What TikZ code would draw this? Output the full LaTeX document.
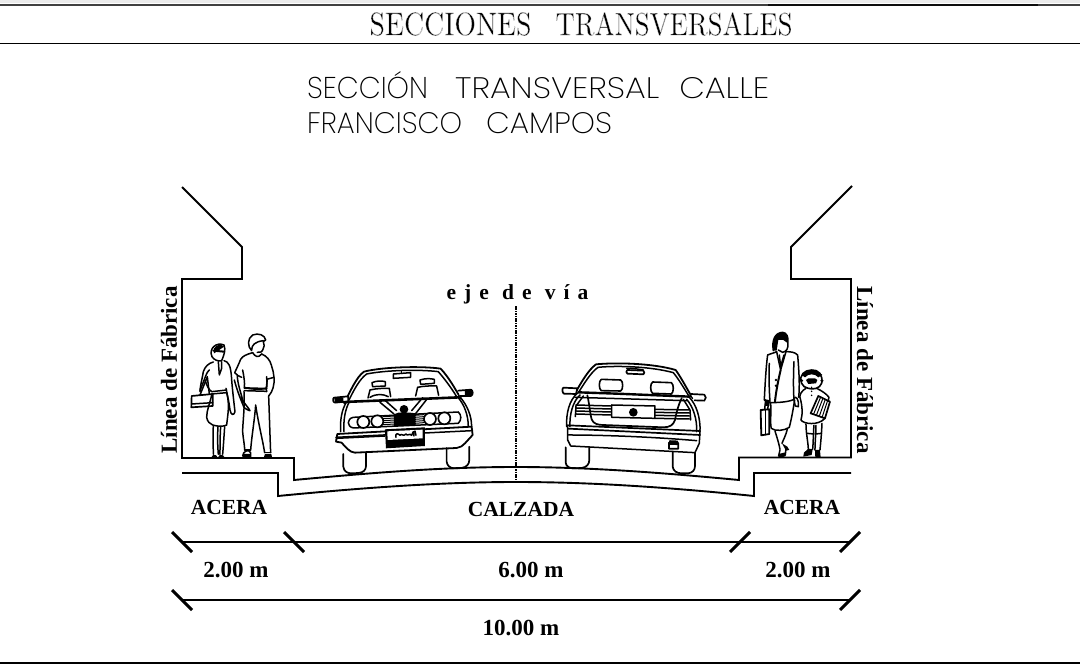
\documentclass[tikz,border=0pt]{standalone}
\usepackage{fontspec}
\usepackage{graphicx}
\setmainfont{Liberation Serif}
\newfontfamily\cadsans{Poppins ExtraLight}
\newfontfamily\cadserif{Latin Modern Roman}
\usetikzlibrary{calc}
\newcommand{\thinned}[1]{\special{pdf:code 2 Tr 0.08 w 1 1 1 RG}#1\special{pdf:code 0 Tr 0 0 0 RG}}
\tikzset{
  road/.style={line width=1.9pt,line join=miter},
  fig/.style={line width=1.5pt,line join=round,line cap=round},
  figthin/.style={line width=1pt,line join=round,line cap=round},
  tick/.style={line width=3pt},
  dimline/.style={line width=1.8pt},
  lab/.style={font=\fontsize{21.5}{21.5}\selectfont\bfseries,inner sep=0pt},
  dimlab/.style={font=\fontsize{23}{23}\selectfont\bfseries,inner sep=0pt},
  side/.style={font=\fontsize{23}{23}\selectfont\bfseries,inner sep=0pt},
}
\begin{document}
\begin{tikzpicture}[x=1pt,y=-1pt]
\useasboundingbox (0,0) rectangle (1080,666);
% frame rules
\fill[black!8] (0,0) rectangle (1080,3);
\draw[line width=2.4pt,black!75] (0,4.8) -- (1080,4.8);
\draw[line width=2.4pt,black!95] (768,4.8) -- (1038,4.8);
\draw[line width=1.7pt] (0,43.5) -- (1080,43.5);
\draw[line width=1.7pt] (0,663) -- (1080,663);
% titles
\node[inner sep=0pt] (title) at (581,24) {\resizebox{162pt}{23pt}{\thinned{\cadserif SECCIONES}}\hspace{24pt}\resizebox{237pt}{23pt}{\thinned{\cadserif TRANSVERSALES}}};
\node[inner sep=0pt,anchor=south west] (sub1) at (307,98.5) {\resizebox{121pt}{27pt}{\cadsans SECCIÓN}\hspace{27pt}\resizebox{204pt}{21pt}{\cadsans TRANSVERSAL}\hspace{20pt}\resizebox{90pt}{21pt}{\cadsans CALLE}};
\node[inner sep=0pt,anchor=south west] (sub2) at (307,133.5) {\resizebox{155pt}{21pt}{\cadsans FRANCISCO}\hspace{24pt}\resizebox{126pt}{21pt}{\cadsans CAMPOS}};
% road and buildings
\draw[road] (182,187) -- (242,247) -- (242,279) -- (182,279) -- (182,458) -- (294,458) -- (294,480)
  .. controls (370,473) and (440,467) .. (516,467)
  .. controls (590,467) and (665,473) .. (739,480) -- (739,457.5) -- (851,457.5) -- (851,279) -- (791,279) -- (791,247) -- (852,186);
\draw[road] (182,473) -- (278,473) -- (278,496)
  .. controls (360,488) and (440,482) .. (516,482)
  .. controls (595,482) and (675,488) .. (754,496) -- (754,473) -- (851,473);
\draw[line width=1.2pt,dash pattern=on 1.6pt off .8pt] (516,306) -- (516,482);
% labels
\node[font=\fontsize{21.5}{21.5}\selectfont\bfseries,inner sep=0pt] (eje) at (517.5,294) {\addfontfeature{LetterSpace=37}eje de vía};
\node[side,rotate=90] (lfl) at (169,370) {Línea de Fábrica};
\node[side,rotate=-90] (lfr) at (865,370) {Línea de Fábrica};
\node[lab] (a1) at (229,507) {ACERA};
\node[lab] (c) at (521,509) {CALZADA};
\node[lab] (a2) at (802,507) {ACERA};
\node[dimlab] (d1) at (236,570) {2.00 m};
\node[dimlab] (d2) at (531,570) {6.00 m};
\node[dimlab] (d3) at (798,570) {2.00 m};
\node[dimlab] (d4) at (521,628) {10.00 m};
% dimensions
\coordinate (p1) at (182,542); \coordinate (p2) at (294,542); \coordinate (p3) at (740,542); \coordinate (p4) at (850,542);
\coordinate (q1) at (182,600); \coordinate (q4) at (850,600);
\draw[dimline] (p1) -- (p4);
\draw[dimline] (q1) -- (q4);
\foreach \p in {p1,p2,q1} \draw[tick] ($(\p)+(-10,-10)$) -- ($(\p)+(10,10)$);
\foreach \p in {p3,p4,q4} \draw[tick] ($(\p)+(-10,10)$) -- ($(\p)+(10,-10)$);

% ---------- left group (coordinates = zoom pixels)
\begin{scope}[shift={(150,320)},x=.3333pt,y=-.3333pt]
 % woman
 \begin{scope}[fig]
 \draw (186,110) .. controls (175,85) and (200,65) .. (222,75) .. controls (228,90) and (222,105) .. (215,122) .. controls (205,125) and (192,120) .. (186,110);
 \draw[line width=2pt] (190,92) -- (222,95);
 \fill (192,85) .. controls (200,72) and (215,72) .. (222,80) -- (205,92) -- (192,100) -- cycle;
 \draw (190,126) .. controls (175,130) and (165,140) .. (160,155) .. controls (155,185) and (150,200) .. (150,215);
 \draw (222,122) .. controls (235,125) and (243,135) .. (245,180) .. controls (248,215) and (252,250) .. (255,275) .. controls (252,287) and (243,287) .. (240,270) .. controls (238,250) and (232,225) .. (228,205);
 \draw (165,180) .. controls (170,195) and (175,208) .. (185,215) -- (230,210);
 \draw (185,222) -- (230,218);
 \draw (205,125) -- (208,165) -- (215,145) -- (215,125);
 \draw (178,150) .. controls (170,155) and (165,175) .. (150,212);
 \draw (185,225) .. controls (180,250) and (170,270) .. (170,292) .. controls (172,305) and (180,312) .. (188,315) .. controls (205,320) and (220,320) .. (230,315) .. controls (233,285) and (240,255) .. (230,218);
 \draw (190,318) .. controls (188,350) and (190,380) .. (190,403);
 \draw (204,320) .. controls (202,350) and (203,380) .. (205,403);
 \draw (212,320) .. controls (210,350) and (210,380) .. (210,403);
 \draw (224,320) .. controls (222,350) and (220,380) .. (218,403);
 \fill (185,411) .. controls (186,403) and (200,402) .. (202,411) -- cycle;
 \fill (205,411) .. controls (206,403) and (220,402) .. (223,411) -- cycle;
 \draw[line width=1.7pt] (125,228) -- (188,222) -- (188,258) -- (124,262) -- cycle;
 \draw (125,252) -- (188,248);
 \draw (150,225) -- (172,170) -- (178,222);
 % man
 \draw (305,92) .. controls (292,80) and (292,55) .. (308,45) .. controls (325,38) and (345,45) .. (347,60) .. controls (345,62) and (342,65) .. (340,65) .. controls (342,75) and (345,80) .. (340,85) .. controls (338,95) and (330,100) .. (322,97);
 \draw (305,90) .. controls (305,75) and (315,65) .. (340,62);
 \draw (308,98) .. controls (315,110) and (325,115) .. (335,102);
 \draw (308,98) .. controls (290,103) and (278,108) .. (272,118) .. controls (265,135) and (258,150) .. (254,158) .. controls (260,165) and (268,170) .. (275,172);
 \draw (335,102) .. controls (350,108) and (360,120) .. (364,135) .. controls (368,150) and (372,160) .. (372,172) -- (350,178);
 \draw (278,150) .. controls (282,170) and (285,190) .. (283,202) .. controls (300,208) and (335,210) .. (350,204) .. controls (352,190) and (350,180) .. (350,170);
 \draw (262,165) .. controls (262,190) and (272,215) .. (278,240) .. controls (282,250) and (295,262) .. (300,272) .. controls (295,272) and (285,265) .. (282,262) .. controls (275,245) and (262,215) .. (253,180);
 \draw (372,172) .. controls (374,195) and (368,215) .. (356,228);
 \draw (352,178) .. controls (350,195) and (348,205) .. (350,215);
 \draw[line width=1.8pt] (283,204) -- (350,206);
 \draw (283,212) -- (350,214);
 \draw (282,215) .. controls (285,260) and (278,310) .. (278,335) .. controls (280,360) and (284,375) .. (284,390);
 \draw (302,390) .. controls (305,350) and (315,290) .. (317,255) .. controls (325,310) and (338,360) .. (344,398);
 \draw (362,398) .. controls (360,350) and (358,280) .. (356,228);
 \draw (284,390) -- (302,390);
 \draw (344,398) -- (362,398);
 \draw (278,408) .. controls (278,395) and (296,385) .. (302,398) -- (302,410);
 \fill (278,411) -- (302,411) -- (302,402) -- (280,402) -- cycle;
 \fill (342,411) -- (366,411) -- (364,402) -- (345,402) -- cycle;
 \end{scope}
 % front car
 \begin{scope}[fig]
 \draw[line width=1.8pt] (583,250) .. controls (600,215) and (620,170) .. (642,155) .. controls (700,140) and (820,138) .. (872,146) .. controls (895,170) and (915,205) .. (932,235);
 \draw (597,240) .. controls (612,210) and (628,178) .. (650,162) .. controls (710,150) and (810,148) .. (865,155) .. controls (885,178) and (905,205) .. (920,230);
 \draw (730,162) -- (782,158) -- (782,172) -- (730,175) -- cycle;
 \draw (755,152) -- (755,160);
 \draw (666,188) .. controls (680,182) and (695,182) .. (706,185) -- (706,198) -- (668,200) -- cycle;
 \draw (660,210) .. controls (680,205) and (700,205) .. (718,205) -- (722,230);
 \draw (660,210) -- (654,234);
 \draw (660,232) .. controls (680,220) and (700,222) .. (715,230);
 \draw (810,180) .. controls (825,175) and (840,175) .. (853,178) -- (853,190) -- (812,193) -- cycle;
 \draw (803,202) .. controls (820,198) and (845,197) .. (860,198) -- (866,226);
 \draw (803,202) -- (797,228);
 \draw[line width=2.6pt] (580,246) -- (930,232);
 \draw[line width=1.7pt,fill=white] (552,233) -- (595,229) -- (595,244) -- (555,248) .. controls (548,247) and (548,235) .. (552,233);
 \draw[line width=1.7pt,fill=white] (925,212) -- (963,209) .. controls (970,212) and (970,225) .. (963,228) -- (930,228);
 \fill (553,234) -- (580,232) -- (580,246) -- (555,248) -- cycle;
 \fill (945,211) -- (965,209) -- (968,225) -- (945,228) -- cycle;
 \draw (572,335) .. controls (570,300) and (575,270) .. (590,245);
 \draw (582,335) .. controls (580,300) and (585,270) .. (598,245);
 \draw (965,320) .. controls (965,285) and (950,255) .. (932,233);
 \draw (955,320) .. controls (955,285) and (943,255) .. (925,233);
 \draw (610,292) -- (925,276) .. controls (935,285) and (935,300) .. (925,310) -- (610,324) .. controls (590,320) and (590,296) .. (610,292);
 \foreach \c/\d in {640/306,682/304,840/297,883/295} \draw[line width=1.7pt,fill=white] (\c,\d) circle[radius=18];
 \foreach \yy in {-12,-6,0,6,12} {\draw[figthin] (700,302+\yy) -- (735,300+\yy); \draw[figthin] (795,298+\yy) -- (822,296+\yy);}
 \fill (732,283) -- (745,278) -- (780,278) -- (797,280) -- (797,316) -- (732,318) -- cycle;
 \fill (762,268) circle[radius=13];
 \draw[line width=1.5pt] (690,247) -- (732,282) (704,240) -- (740,272);
 \draw[line width=1.5pt] (818,233) -- (785,272) (832,236) -- (796,282);
 \draw[line width=1.8pt] (562,342) -- (965,320) -- (968,345) -- (945,370) .. controls (940,378) and (930,382) .. (920,384) -- (615,398) .. controls (600,398) and (585,380) .. (575,368) -- (558,365) -- cycle;
 \draw (558,352) -- (967,332);
 \draw (705,348) -- (560,355);
 \fill (705,328) -- (825,322) -- (825,378) -- (708,385) -- cycle;
 \fill[white] (712,334) -- (818,329) -- (818,355) -- (713,360) -- cycle;
 \draw[line width=1.5pt] (738,352) .. controls (735,338) and (745,340) .. (750,346) .. controls (755,338) and (760,352) .. (768,342) .. controls (772,350) and (780,338) .. (785,346) -- (790,335) -- (792,348) (795,333) -- (798,346);
 \draw[line width=1.7pt] (580,402) -- (580,440) .. controls (582,455) and (592,460) .. (605,460) -- (625,459) .. controls (640,458) and (648,450) .. (648,438) -- (648,398);
 \draw[line width=1.7pt] (890,384) -- (890,425) .. controls (892,438) and (900,444) .. (912,445) -- (935,444) .. controls (950,442) and (958,432) .. (958,420) -- (958,380);
 \end{scope}
\end{scope}

% ---------- right group
\begin{scope}[shift={(500,320)},x=.3333pt,y=-.3333pt]
 \begin{scope}[fig]
 % rear car
 \draw[line width=1.8pt] (225,220) .. controls (245,185) and (265,150) .. (288,133) .. controls (350,127) and (460,130) .. (527,150) .. controls (545,175) and (560,205) .. (578,235);
 \draw (235,218) .. controls (253,190) and (272,158) .. (294,142) .. controls (355,136) and (455,140) .. (520,158) .. controls (538,180) and (552,205) .. (568,230);
 \draw[line width=1.7pt] (382,150) -- (430,152) .. controls (434,156) and (434,160) .. (430,163) -- (382,161) .. controls (378,158) and (378,153) .. (382,150);
 \draw (380,145) -- (405,146) -- (430,150);
 \draw[line width=1.6pt] (304,178) -- (362,180) .. controls (370,182) and (370,210) .. (362,213) -- (304,212) .. controls (296,208) and (296,182) .. (304,178);
 \draw[line width=1.6pt] (458,186) -- (514,188) .. controls (522,192) and (522,218) .. (514,222) -- (458,220) .. controls (450,216) and (450,190) .. (458,186);
 \draw[line width=1.7pt,fill=white] (190,203) -- (232,205) -- (228,222) -- (192,221) .. controls (186,218) and (186,206) .. (190,203);
 \draw[line width=1.7pt,fill=white] (572,222) -- (613,224) .. controls (619,228) and (619,238) .. (613,242) -- (584,241);
 \draw[line width=2.4pt] (235,217) -- (350,221) -- (570,230);
 \draw (225,232) -- (560,242);
 \draw (200,320) .. controls (198,280) and (208,240) .. (232,220);
 \draw (210,320) .. controls (208,285) and (218,245) .. (240,225);
 \draw (600,335) .. controls (602,295) and (590,255) .. (568,232);
 \draw (590,335) .. controls (592,300) and (580,260) .. (560,238);
 \draw[line width=1.7pt] (262,226) .. controls (268,250) and (270,280) .. (275,298) .. controls (280,312) and (295,315) .. (310,315) -- (490,322) .. controls (510,322) and (520,315) .. (525,300) .. controls (530,275) and (535,255) .. (545,235);
 \draw (335,255) -- (465,258) -- (465,295) -- (335,292) -- cycle;
 \foreach \yy in {0,9,18,27} \draw (228,255+\yy) -- (332,258+\yy);
 \foreach \yy in {0,9,18,27} \draw (465,268+\yy) -- (568,270+\yy);
 \draw (250,228) -- (228,258) -- (226,290);
 \draw (550,238) -- (570,270) -- (572,300);
 \fill (400,277) circle[radius=13];
 \draw[line width=1.7pt] (203,316) -- (600,333);
 \draw[line width=1.7pt] (205,326) -- (600,345);
 \draw (205,345) .. controls (300,345) and (450,350) .. (590,362);
 \draw (203,316) -- (203,360) -- (212,378) -- (585,398) -- (598,370) -- (600,333);
 \draw[line width=1.7pt,fill=white] (507,368) -- (535,369) -- (535,386) -- (507,386) -- cycle;
 \draw[fill=black] (510,363) -- (532,364) -- (532,373) -- (510,372) -- cycle;
 \draw[line width=1.7pt] (197,382) -- (197,428) .. controls (198,440) and (210,445) .. (220,445) -- (245,444) .. controls (260,442) and (268,432) .. (268,420) -- (268,382);
 \draw[line width=1.7pt] (518,396) -- (518,440) .. controls (520,453) and (530,460) .. (545,460) -- (565,460) .. controls (578,458) and (585,450) .. (585,438) -- (585,398);
 % woman with jacket
 \fill (820,92) .. controls (815,60) and (825,38) .. (848,37) .. controls (860,38) and (866,50) .. (864,70) -- (850,60) -- (835,60) -- (830,92) -- cycle;
 \draw (820,92) .. controls (815,60) and (825,38) .. (848,37) .. controls (860,38) and (866,50) .. (864,70) .. controls (865,85) and (860,95) .. (848,97) -- (835,90);
 \draw (803,105) .. controls (815,100) and (825,98) .. (830,95);
 \draw (858,95) .. controls (870,95) and (885,96) .. (893,105) .. controls (897,150) and (900,200) .. (896,232);
 \draw (803,105) .. controls (798,140) and (795,200) .. (793,240);
 \draw (793,240) -- (810,248) .. controls (840,248) and (870,245) .. (882,238);
 \draw (830,95) -- (842,150) -- (858,95);
 \draw (838,105) -- (842,140) -- (852,105);
 \draw[line width=2pt] (842,150) .. controls (835,180) and (828,215) .. (825,245);
 \draw (808,130) .. controls (806,170) and (808,215) .. (810,245);
 \draw (882,125) .. controls (880,170) and (880,210) .. (882,238);
 \fill (828,180) circle[radius=4]; \fill (828,197) circle[radius=4];
 \draw (812,248) .. controls (814,280) and (810,310) .. (814,325) .. controls (825,335) and (855,332) .. (868,322) .. controls (875,295) and (880,265) .. (884,240);
 \draw (825,333) .. controls (832,355) and (838,375) .. (840,388) (862,328) .. controls (858,345) and (850,360) .. (846,370);
 \draw (840,390) -- (836,408) .. controls (840,412) and (850,412) .. (856,405) -- (858,385);
 \fill (846,370) -- (862,380) -- (868,390) -- (858,392) -- cycle;
 \fill (836,402) -- (856,397) -- (856,409) -- (838,411) -- cycle;
 \draw[line width=1.8pt] (782,270) -- (808,268) -- (808,342) -- (784,346) -- cycle;
 \draw (796,268) -- (796,344);
 \draw (794,268) -- (797,240) (803,268) -- (806,248);
 \fill (795,238) -- (808,240) -- (808,258) -- (797,258) -- cycle;
 \draw (882,235) .. controls (888,225) and (898,240) .. (895,260) -- (886,258) -- (882,240);
 % child
 \draw[line width=1.6pt] (905,190) .. controls (895,165) and (915,150) .. (935,150) .. controls (955,148) and (970,165) .. (965,190) .. controls (960,205) and (940,210) .. (925,205) .. controls (915,203) and (908,198) .. (905,190);
 \fill (905,165) .. controls (920,148) and (950,145) .. (967,165) -- (955,172) .. controls (945,160) and (925,160) .. (915,172) -- cycle;
 \fill (918,180) -- (925,175) -- (945,175) -- (952,180) -- (948,190) -- (925,192) -- cycle;
 \fill (905,182) circle[radius=5]; \fill (966,182) circle[radius=5];
 \draw (918,205) .. controls (905,212) and (898,225) .. (900,232) .. controls (908,260) and (908,285) .. (903,300) .. controls (910,312) and (955,318) .. (975,295);
 \draw (950,205) .. controls (965,212) and (980,222) .. (987,232) -- (978,270);
 \fill (935,214) circle[radius=2.5]; \fill (935,226) circle[radius=2.5]; \fill (935,202) circle[radius=2.5];
 \draw[line width=1.7pt,fill=white] (955,228) -- (990,245) -- (975,295) -- (932,280) -- cycle;
 \foreach \tt in {.2,.4,.6,.8} \draw[figthin] ($(955,228)!\tt!(990,245)$) -- ($(932,280)!\tt!(975,295)$);
 \draw (918,312) .. controls (918,340) and (925,370) .. (925,388);
 \draw (942,316) .. controls (940,340) and (940,370) .. (938,388);
 \draw (948,316) .. controls (948,340) and (945,370) .. (945,390);
 \draw (966,310) .. controls (965,340) and (962,370) .. (960,390);
 \draw (920,340) -- (942,342) (947,342) -- (965,340);
 \fill (912,398) -- (925,386) -- (938,388) -- (935,405) -- (910,410) -- cycle;
 \fill (945,390) -- (960,390) -- (962,411) -- (946,411) -- cycle;
 \end{scope}
\end{scope}
\end{tikzpicture}
\end{document}
